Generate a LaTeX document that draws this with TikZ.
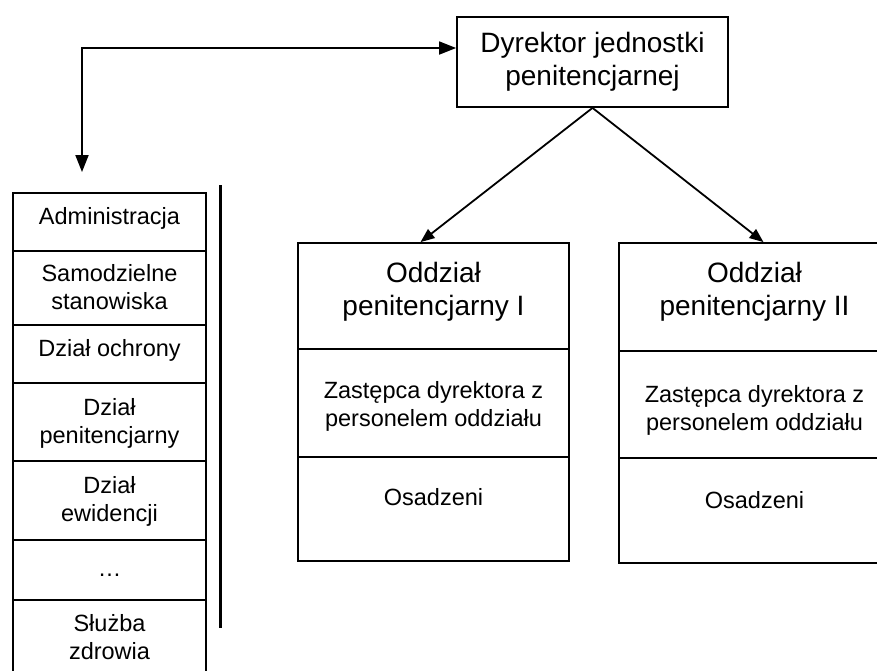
\documentclass[tikz,border=0pt]{standalone}
\usepackage{fontspec}
\setmainfont{Liberation Sans}
\usetikzlibrary{arrows.meta}
\begin{document}
\begin{tikzpicture}[x=1pt,y=-1pt,
  cell/.style={draw=black, line width=1.8pt, inner sep=0pt},
  bigtxt/.style={font=\fontsize{28}{33}\selectfont, align=center, inner sep=0pt},
  smalltxt/.style={font=\fontsize{23.5}{28}\selectfont, align=center, inner sep=0pt},
  arr/.style={line width=1.8pt, -{Triangle[length=14pt,width=11pt]}},
  bigtip/.style={line width=1.8pt, {Triangle[length=17pt,width=13pt]}-{Triangle[length=17pt,width=13pt]}}]
\useasboundingbox (0,0) rectangle (877,670);

% director
\node[cell, minimum width=271pt, minimum height=90pt] (dir) at (592.5,62) {};
\node[bigtxt] (dirt) at (592.5,62) {Dyrektor jednostki\\penitencjarnej};

% left column
\node[cell, minimum width=193pt, minimum height=58pt] (l1) at (109.5,222) {};
\node[smalltxt] (l1t) at (109.5,218) {Administracja};
\node[cell, minimum width=193pt, minimum height=74pt] (l2) at (109.5,288) {};
\node[smalltxt] (l2t) at (109.5,287) {Samodzielne\\stanowiska};
\node[cell, minimum width=193pt, minimum height=58pt] (l3) at (109.5,354) {};
\node[smalltxt] (l3t) at (109.5,350) {Dział ochrony};
\node[cell, minimum width=193pt, minimum height=78pt] (l4) at (109.5,422) {};
\node[smalltxt] (l4t) at (109.5,423) {Dział\\penitencjarny};
\node[cell, minimum width=193pt, minimum height=79pt] (l5) at (109.5,500.5) {};
\node[smalltxt] (l5t) at (109.5,501) {Dział\\ewidencji};
\node[cell, minimum width=193pt, minimum height=60pt] (l6) at (109.5,570) {};
\node[smalltxt] (l6t) at (109.5,575) {\ldots};
\node[cell, minimum width=193pt, minimum height=76pt] (l7) at (109.5,638) {};
\node[smalltxt] (l7t) at (109.5,637) {Służba\\zdrowia};

% vertical bar
\coordinate (bartop) at (220,185);
\coordinate (barbot) at (220,628);
\draw[line width=3pt] (bartop) -- (barbot);

% unit I
\node[cell, minimum width=271pt, minimum height=106pt] (o1a) at (433.5,296) {};
\node[bigtxt] (o1at) at (433.5,292) {Oddział\\penitencjarny I};
\node[cell, minimum width=271pt, minimum height=108pt] (o1b) at (433.5,403) {};
\node[smalltxt] (o1bt) at (433.5,406) {Zastępca dyrektora z\\personelem oddziału};
\node[cell, minimum width=271pt, minimum height=104pt] (o1c) at (433.5,509) {};
\node[smalltxt] (o1ct) at (433.5,497) {Osadzeni};

% unit II
\node[cell, minimum width=271pt, minimum height=108pt] (o2a) at (754.5,297) {};
\node[bigtxt] (o2at) at (754.5,292) {Oddział\\penitencjarny II};
\node[cell, minimum width=271pt, minimum height=107pt] (o2b) at (754.5,404.5) {};
\node[smalltxt] (o2bt) at (754.5,410) {Zastępca dyrektora z\\personelem oddziału};
\node[cell, minimum width=271pt, minimum height=105pt] (o2c) at (754.5,510.5) {};
\node[smalltxt] (o2ct) at (754.5,500) {Osadzeni};

% connectors
\coordinate (lefttip) at (82,172);
\draw[bigtip] (lefttip) |- ([yshift=14pt]dir.west);
\draw[arr] (dir.south) -- ([xshift=-13pt]o1a.north);
\draw[arr] (dir.south) -- ([xshift=9pt]o2a.north);
\end{tikzpicture}
\end{document}
